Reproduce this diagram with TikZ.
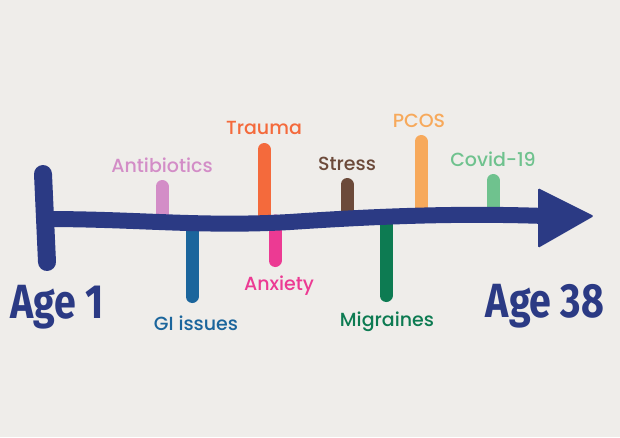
\documentclass[tikz,border=0pt]{standalone}
\usepackage{fontspec}
\setmainfont{Poppins}[UprightFont=* Medium]
\newfontfamily\agefont{Fira Sans}
\definecolor{bgc}{HTML}{EFEDEA}
\definecolor{navy}{HTML}{2B3A84}
\definecolor{cAnti}{HTML}{D38DC7}
\definecolor{cTrauma}{HTML}{F46A3C}
\definecolor{cStress}{HTML}{6C4A3A}
\definecolor{cPcos}{HTML}{F7A95B}
\definecolor{cCovid}{HTML}{6FC28E}
\definecolor{cGi}{HTML}{1B659C}
\definecolor{cAnx}{HTML}{EC3A93}
\definecolor{cMig}{HTML}{0D7B52}
\begin{document}
\begin{tikzpicture}[x=1pt,y=-1pt,
  tick/.style={line width=13pt, line cap=round},
  lbl/.style={font=\fontsize{19}{22}\selectfont, anchor=base, inner sep=0pt},
  agelbl/.style={font=\agefont\bfseries\fontsize{48}{50}\selectfont, anchor=base, inner sep=0pt, text=navy}]
\fill[bgc] (0,0) rectangle (620,437);
\useasboundingbox (0,0) rectangle (620,437);
% tick coordinates
\coordinate (abT) at (162,186.5); \coordinate (abB) at (162,218);
\coordinate (trT) at (264,149.5); \coordinate (trB) at (264,220);
\coordinate (stT) at (347,184.5); \coordinate (stB) at (347,218);
\coordinate (pcT) at (421,141.5); \coordinate (pcB) at (421,216);
\coordinate (coT) at (493,180.5); \coordinate (coB) at (493,214);
\coordinate (giT) at (192,222); \coordinate (giB) at (192,296.5);
\coordinate (anT) at (275,221); \coordinate (anB) at (275,260.5);
\coordinate (miT) at (386,216); \coordinate (miB) at (386,295.5);
% ticks
\draw[tick, cAnti] (abT) -- (abB);
\draw[tick, cTrauma] (trT) -- (trB);
\draw[tick, cStress] (stT) -- (stB);
\draw[tick, cPcos] (pcT) -- (pcB);
\draw[tick, cCovid] (coT) -- (coB);
\draw[tick, cGi] (giT) -- (giB);
\draw[tick, cAnx] (anT) -- (anB);
\draw[tick, cMig] (miT) -- (miB);
% main line
\coordinate (ls) at (44,219);
\coordinate (lm) at (290,222);
\coordinate (le) at (545,216);
\draw[navy, line width=16pt] (ls) .. controls (140,219) and (200,227) .. (lm) .. controls (380,216) and (460,213) .. (le);
% left bar
\coordinate (bt) at (43,174);
\coordinate (bb) at (47,262);
\draw[navy, line width=18pt, line cap=round] (bt) -- (bb);
% arrow head
\fill[navy, rounded corners=1.5pt] (538,188) -- (594,216) -- (538,248) -- cycle;
% labels
\node[lbl, text=cAnti] (abL) at (162,172) {Antibiotics};
\node[lbl, text=cTrauma] (trL) at (264,134) {Trauma};
\node[lbl, text=cStress] (stL) at (347,170) {Stress};
\node[lbl, text=cPcos] (pcL) at (419,127) {PCOS};
\node[lbl, text=cCovid] (coL) at (493,166) {Covid-19};
\node[lbl, text=cGi] (giL) at (196,330) {GI issues};
\node[lbl, text=cAnx] (anL) at (279,290) {Anxiety};
\node[lbl, text=cMig] (miL) at (387,326) {Migraines};
\node[agelbl] (age1) at (57,318) {\scalebox{0.82}[1]{Age 1}};
\node[agelbl] (age38) at (545,317) {\scalebox{0.82}[1]{Age 38}};
\end{tikzpicture}
\end{document}
